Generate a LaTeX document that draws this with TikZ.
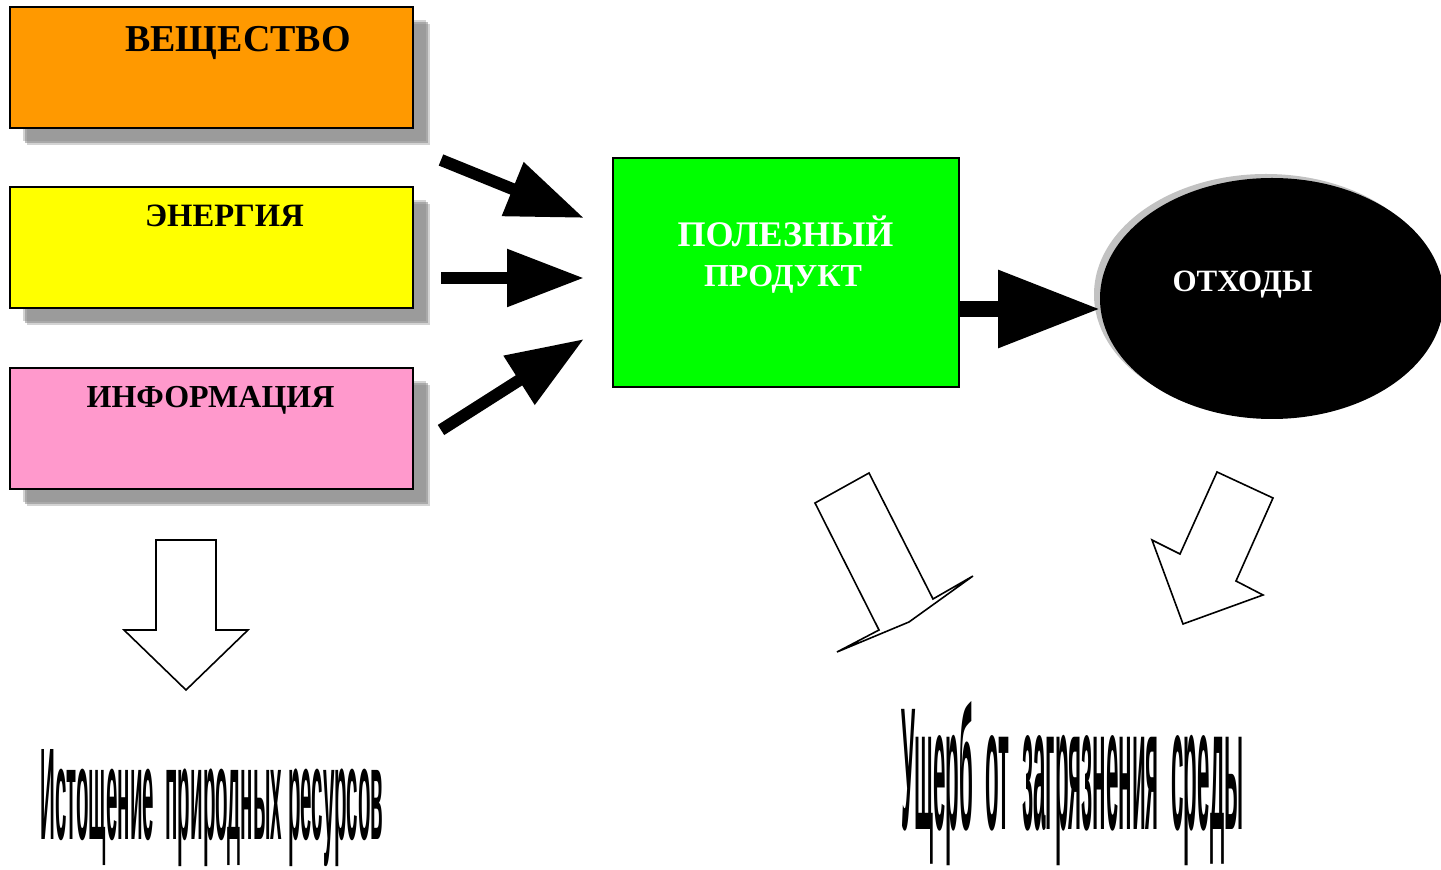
\documentclass[tikz,border=0pt]{standalone}
\usepackage{fontspec}
\setmainfont{Liberation Serif}
\newfontfamily\narrowsans{Liberation Sans}
\usepackage{graphicx}
\usetikzlibrary{calc}
\usetikzlibrary{arrows.meta}
\usetikzlibrary{shadows}
\usetikzlibrary{shapes.geometric}
\definecolor{substanceorange}{HTML}{FF9900}
\definecolor{energyyellow}{HTML}{FFFF00}
\definecolor{infopink}{HTML}{FF99CC}
\definecolor{productgreen}{HTML}{00FF00}
\tikzset{
  box_node/.style = {rectangle, draw=black, line width=0.8pt, inner sep=0pt,
    outer sep=0pt},
  input_node/.style = {box_node, minimum width=201.5pt, minimum height=60.5pt,
    drop shadow={shadow xshift=6.5pt, shadow yshift=-6.5pt, fill=black!50,
    opacity=0.35},
    drop shadow={shadow xshift=7.5pt, shadow yshift=-7.5pt, fill=black!50,
    opacity=0.5},
    drop shadow={shadow xshift=8.5pt, shadow yshift=-8.5pt, fill=black!50,
    opacity=0.35}},
  product_node/.style = {box_node, fill=productgreen, minimum width=173pt,
    minimum height=114.5pt},
  waste_node/.style = {ellipse, fill=black, inner sep=0pt, minimum width=172pt,
    minimum height=120.5pt, drop shadow={shadow xshift=-3pt, shadow yshift=2pt,
    fill=black!40, opacity=0.6}},
  label_text/.style = {inner sep=0pt, anchor=base},
  flow_arrow/.style = {line width=6pt, -{Triangle[length=38.5pt, width=27.5pt]}},
  block_arrow/.style = {draw=black, fill=white, line width=0.8pt, line join=miter},
  result_text/.style = {inner sep=0pt, anchor=base west, font=\narrowsans\bfseries}
}

\begin{document}
\begin{tikzpicture}[x=0.5pt, y=-0.5pt]
  \useasboundingbox (0,0) rectangle (1441,870);
  % inputs
  \node[input_node, fill=substanceorange] (substance) at (211.5,67.5) {};
  \node[input_node, fill=energyyellow] (energy) at (211.5,247.5) {};
  \node[input_node, fill=infopink] (information) at (211.5,428.5) {};
  \node[label_text, font=\bfseries\fontsize{19}{23}\selectfont]
    (substance_text) at (238,52) {ВЕЩЕСТВО};
  \node[label_text, font=\bfseries\fontsize{16.3}{20}\selectfont]
    (energy_text) at (224.5,227) {ЭНЕРГИЯ};
  \node[label_text, font=\bfseries\fontsize{16}{20}\selectfont]
    (information_text) at (210.5,408) {ИНФОРМАЦИЯ};
  % product and waste
  \node[product_node] (product) at (786,272.5) {};
  \node[label_text, white, font=\bfseries\fontsize{18}{22}\selectfont]
    (product_text1) at (785.5,247) {ПОЛЕЗНЫЙ};
  \node[label_text, white, font=\bfseries\fontsize{16}{20}\selectfont]
    (product_text2) at (783,287) {ПРОДУКТ};
  \node[waste_node] (waste) at (1272,298.5) {};
  \node[label_text, white, font=\bfseries\fontsize{15.5}{18}\selectfont]
    (waste_text) at (1242.5,292) {ОТХОДЫ};
  % flows
  \coordinate (substance_out) at (441,160);
  \coordinate (energy_out) at (441,278);
  \coordinate (information_out) at (441,430);
  \coordinate (product_in1) at (584,218);
  \coordinate (product_in2) at (584,278);
  \coordinate (product_in3) at (584,339);
  \coordinate (product_out) at (958,309);
  \coordinate (waste_in) at (1100,309);
  \draw[flow_arrow] (substance_out) -- (product_in1);
  \draw[flow_arrow] (energy_out) -- (product_in2);
  \draw[flow_arrow] (information_out) -- (product_in3);
  \draw[line width=8pt, -{Triangle[length=51pt, width=37pt]}]
    (product_out) -- (waste_in);
  % hollow arrows
  \draw[block_arrow] (156,540) -- (216,540) -- (216,630) -- (248,630)
    -- (186,690) -- (124,630) -- (156,630) -- cycle;
  \draw[block_arrow] (815,503) -- (869,473) -- (933,599) -- (973,576)
    -- (909,622) -- (837,652) -- (879,630) -- cycle;
  \draw[block_arrow] (1217,472) -- (1273,498) -- (1236,581) -- (1263,595)
    -- (1183,624) -- (1152,540) -- (1180,554) -- cycle;
  % results
  \node[result_text] (depletion) at (40,840)
    {\resizebox{171.5pt}{45pt}{Истощение\ \ природных ресурсов}};
  \node[result_text] (damage) at (901,830)
    {\resizebox{171pt}{64pt}{Ущерб\ \ от\ \ загрязнения\ \ среды}};
\end{tikzpicture}
\end{document}
